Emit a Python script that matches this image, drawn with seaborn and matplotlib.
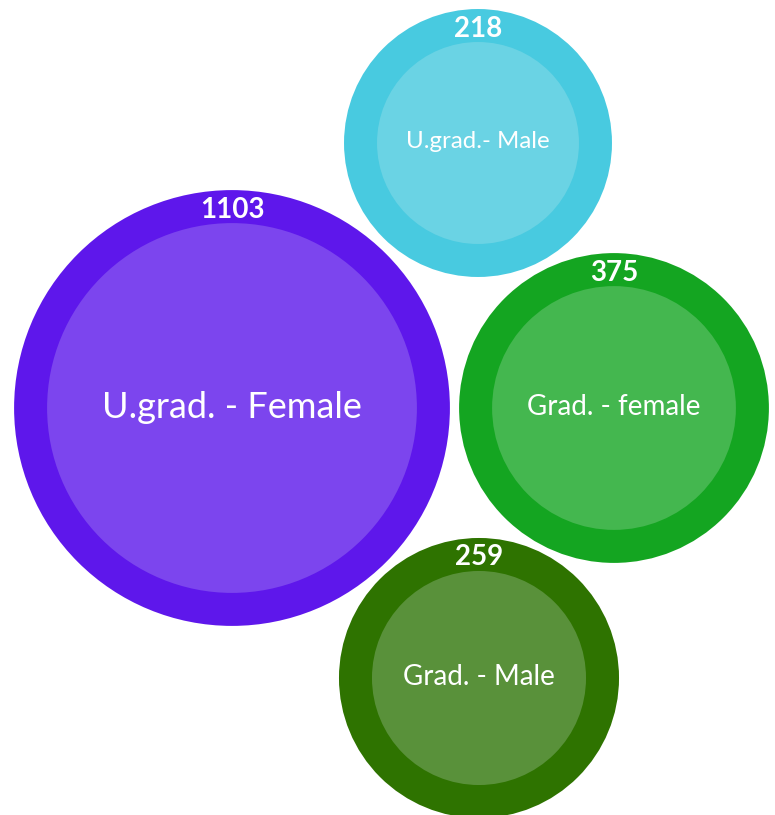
import numpy as np
import pandas as pd
import matplotlib
matplotlib.use("Agg")
import matplotlib.pyplot as plt
import seaborn as sns

# ---- data ----
categories = ["U.grad. - Female", "U.grad.- Male", "Grad. - female", "Grad. - Male"]
values = [1103, 218, 375, 259]
outer_colors = ["#5E17EB", "#48CAE0", "#14A521", "#2E7300"]
inner_colors = ["#7C45EE", "#6AD3E4", "#44B74F", "#59913A"]

# ---- layout (packed-bubble positions in pixel space) ----
centers_x = [232, 478, 614, 479]
centers_y = [408, 143, 408, 678]
label_sizes = [26, 17.3, 20, 20]

W, H, DPI = 775, 815, 100
RING = 33  # ring width in px


def radius_px(v):
    return 4.55 * np.sqrt(v) + 66.8


sns.set_theme(style="white")
plt.rcParams["font.family"] = ["Lato", "DejaVu Sans"]

fig = plt.figure(figsize=(W / DPI, H / DPI), dpi=DPI)
ax = fig.add_axes([0, 0, 1, 1])

df = pd.DataFrame({"category": categories, "value": values,
                   "x": centers_x, "y": centers_y})
r_outer = {c: radius_px(v) for c, v in zip(categories, values)}
px2pt = 72 / DPI
outer_sizes = {c: (2 * r * px2pt) ** 2 for c, r in r_outer.items()}
inner_sizes = {c: (2 * (r - RING) * px2pt) ** 2 for c, r in r_outer.items()}

sns.scatterplot(data=df, x="x", y="y", hue="category", size="category",
                sizes=outer_sizes, palette=dict(zip(categories, outer_colors)),
                linewidth=0, legend=False, ax=ax, zorder=2)
sns.scatterplot(data=df, x="x", y="y", hue="category", size="category",
                sizes=inner_sizes, palette=dict(zip(categories, inner_colors)),
                linewidth=0, legend=False, ax=ax, zorder=3)
ax.set_xlim(0, W)
ax.set_ylim(H, 0)
ax.set_aspect("equal")
ax.axis("off")

for c, v, x, y, fs in zip(categories, values, centers_x, centers_y, label_sizes):
    r = r_outer[c]
    ax.text(x, y - 1, c, color="white", fontsize=fs, ha="center", va="center", zorder=5)
    ax.text(x, y - r + RING / 2 + 3, str(v), color="white", fontsize=20,
            fontweight="bold", ha="center", va="center", zorder=5)

fig.savefig("out.png", dpi=DPI)
